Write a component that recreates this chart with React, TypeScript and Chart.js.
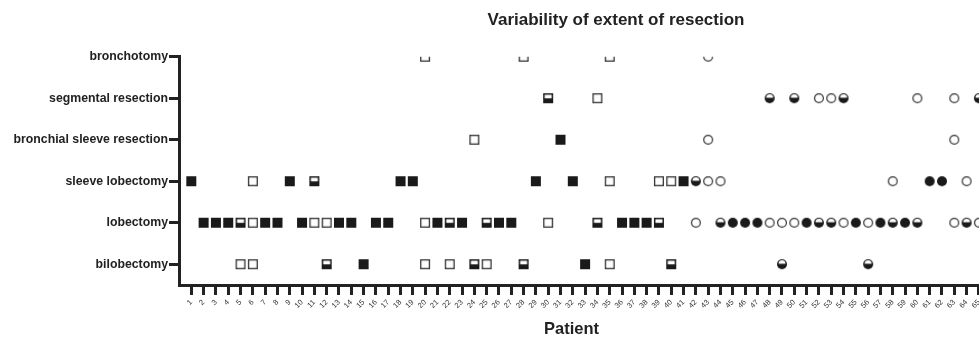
import React, { useEffect, useRef } from 'react';
import { Chart, registerables } from 'chart.js';

Chart.register(...registerables);

const TITLE = 'Variability of extent of resection';
const X_TITLE = 'Patient';

// bottom to top
const categories = [
  'bilobectomy',
  'lobectomy',
  'sleeve lobectomy',
  'bronchial sleeve resection',
  'segmental resection',
  'bronchotomy',
];

const patientTicks = [
  1, 2, 3, 4, 5, 6, 7, 8, 9, 10, 11, 12, 13, 14, 15, 16, 17, 18, 19, 20,
  21, 22, 23, 24, 25, 26, 27, 28, 29, 30, 31, 32, 33, 34, 35, 36, 37, 38, 39, 40,
  41, 42, 43, 44, 45, 46, 47, 48, 49, 50, 51, 52, 53, 54, 55, 56, 57, 58, 59, 60,
  61, 62, 63, 64, 65,
];

const filledSquare: [string, number[]][] = [
  ['bilobectomy', [15, 33]],
  ['lobectomy', [2, 3, 4, 7, 8, 10, 13, 14, 16, 17, 21, 23, 26, 27, 36, 37, 38]],
  ['sleeve lobectomy', [1, 9, 18, 19, 29, 32, 41]],
  ['bronchial sleeve resection', [31]],
];

const openSquare: [string, number[]][] = [
  ['bilobectomy', [5, 6, 20, 22, 25, 35]],
  ['lobectomy', [6, 11, 12, 20, 30]],
  ['sleeve lobectomy', [6, 35, 39, 40]],
  ['bronchial sleeve resection', [24]],
  ['segmental resection', [34]],
  ['bronchotomy', [20, 28, 35]],
];

const halfSquare: [string, number[]][] = [
  ['bilobectomy', [12, 24, 28, 40]],
  ['lobectomy', [5, 22, 25, 34, 39]],
  ['sleeve lobectomy', [11]],
  ['segmental resection', [30]],
];

const openCircle: [string, number[]][] = [
  ['lobectomy', [42, 48, 49, 50, 54, 56, 63, 65]],
  ['sleeve lobectomy', [43, 44, 58, 64]],
  ['bronchial sleeve resection', [43, 63]],
  ['segmental resection', [52, 53, 60, 63]],
  ['bronchotomy', [43]],
];

const halfCircle: [string, number[]][] = [
  ['bilobectomy', [49, 56]],
  ['lobectomy', [44, 52, 53, 58, 60, 64]],
  ['sleeve lobectomy', [42]],
  ['segmental resection', [48, 50, 54, 65]],
];

const filledCircle: [string, number[]][] = [
  ['lobectomy', [45, 46, 47, 51, 55, 57, 59]],
  ['sleeve lobectomy', [61, 62]],
];

const FONT = '"Liberation Sans", Arial, Helvetica, sans-serif';
const INK = '#1a1a1a';

function makeMarker(kind: string): HTMLCanvasElement {
  const s = 12;
  const c = document.createElement('canvas');
  c.width = s;
  c.height = s;
  const g = c.getContext('2d') as CanvasRenderingContext2D;
  const cx = s / 2;
  const cy = s / 2;
  if (kind === 'filledSquare') {
    g.fillStyle = INK;
    g.fillRect(1, 1, 10, 10);
  } else if (kind === 'openSquare') {
    g.fillStyle = '#fff';
    g.fillRect(1, 1, 10, 10);
    g.strokeStyle = '#333';
    g.lineWidth = 1.3;
    g.strokeRect(1.65, 1.65, 8.7, 8.7);
  } else if (kind === 'halfSquare') {
    g.fillStyle = INK;
    g.fillRect(1, 1, 10, 10);
    g.fillStyle = '#fff';
    g.fillRect(2.5, 2.5, 7, 3.6);
  } else if (kind === 'openCircle') {
    g.fillStyle = '#fff';
    g.beginPath();
    g.arc(cx, cy, 5, 0, Math.PI * 2);
    g.fill();
    g.strokeStyle = '#333';
    g.lineWidth = 1.2;
    g.beginPath();
    g.arc(cx, cy, 4.4, 0, Math.PI * 2);
    g.stroke();
  } else if (kind === 'halfCircle') {
    g.fillStyle = INK;
    g.beginPath();
    g.arc(cx, cy, 5, 0, Math.PI * 2);
    g.fill();
    g.fillStyle = '#fff';
    g.beginPath();
    g.arc(cx, cy - 0.4, 3.5, Math.PI, Math.PI * 2);
    g.closePath();
    g.fill();
  } else {
    g.fillStyle = INK;
    g.beginPath();
    g.arc(cx, cy, 5, 0, Math.PI * 2);
    g.fill();
  }
  return c;
}

function toPoints(groups: [string, number[]][]) {
  const pts: { x: number; y: number }[] = [];
  groups.forEach(([cat, patients]) => {
    const yi = categories.indexOf(cat) + 1;
    patients.forEach((p) => pts.push({ x: p, y: yi }));
  });
  return pts;
}

const xTitlePlugin = {
  id: 'xTitleCustom',
  afterDraw(chart: any) {
    const { ctx, chartArea, scales } = chart;
    const x = scales.x;
    ctx.save();
    ctx.font = `bold 16.5px ${FONT}`;
    ctx.fillStyle = '#222';
    ctx.textAlign = 'center';
    ctx.textBaseline = 'middle';
    ctx.fillText(X_TITLE, x.getPixelForValue(31.9), chartArea.bottom + 44.5);
    ctx.restore();
  },
};

export default function App() {
  const ref = useRef<HTMLCanvasElement | null>(null);

  useEffect(() => {
    if (!ref.current) return;
    const series: [string, [string, number[]][]][] = [
      ['filledSquare', filledSquare],
      ['openSquare', openSquare],
      ['halfSquare', halfSquare],
      ['openCircle', openCircle],
      ['halfCircle', halfCircle],
      ['filledCircle', filledCircle],
    ];
    const chart = new Chart(ref.current, {
      type: 'scatter',
      data: {
        datasets: series.map(([kind, groups]) => ({
          label: kind,
          data: toPoints(groups),
          pointStyle: makeMarker(kind) as any,
          pointRadius: 6,
          pointHoverRadius: 6,
          showLine: false,
          clip: 0 as any,
        })),
      },
      plugins: [xTitlePlugin],
      options: {
        animation: false,
        responsive: false,
        maintainAspectRatio: false,
        events: [],
        layout: { padding: { left: 0, right: 0, top: 0, bottom: 38 } },
        plugins: {
          legend: { display: false },
          tooltip: { enabled: false },
          title: {
            display: true,
            text: TITLE,
            color: '#222',
            font: { family: FONT, size: 17, weight: 'bold' },
            padding: { top: 10, bottom: 26.3 },
          },
        },
        scales: {
          x: {
            type: 'linear',
            min: 0,
            max: 85,
            afterBuildTicks: (s: any) => {
              s.ticks = patientTicks.map((v) => ({ value: v }));
            },
            afterFit: (s: any) => {
              s.height = 24;
            },
            ticks: {
              autoSkip: false,
              maxRotation: 45,
              minRotation: 45,
              padding: 3,
              color: '#333',
              font: { family: FONT, size: 7.5 },
              callback: (v: any) => String(v),
            },
            grid: {
              display: true,
              drawOnChartArea: false,
              drawTicks: true,
              tickLength: 10,
              tickWidth: 3,
              tickColor: '#222',
            },
            border: { display: true, width: 3, color: '#222' },
          },
          y: {
            type: 'linear',
            min: 0.5,
            max: 6,
            afterBuildTicks: (s: any) => {
              s.ticks = categories.map((_, i) => ({ value: i + 1 }));
            },
            afterFit: (s: any) => {
              s.width = 179;
            },
            ticks: {
              autoSkip: false,
              padding: 1,
              color: '#222',
              font: { family: FONT, size: 12.3, weight: 'bold' },
              callback: (v: any) => categories[Math.round(Number(v)) - 1] ?? '',
            },
            grid: {
              display: true,
              drawOnChartArea: false,
              drawTicks: true,
              tickLength: 10,
              tickWidth: 3,
              tickColor: '#222',
            },
            border: { display: true, width: 3, color: '#222' },
          },
        },
      },
    } as any);
    return () => chart.destroy();
  }, []);

  return (
    <div
      style={{
        position: 'fixed',
        left: 0,
        top: 0,
        width: 979,
        height: 347,
        overflow: 'hidden',
        background: '#fff',
      }}
    >
      <canvas
        ref={ref}
        width={1232}
        height={347}
        style={{ display: 'block', width: 1232, height: 347 }}
      />
    </div>
  );
}
